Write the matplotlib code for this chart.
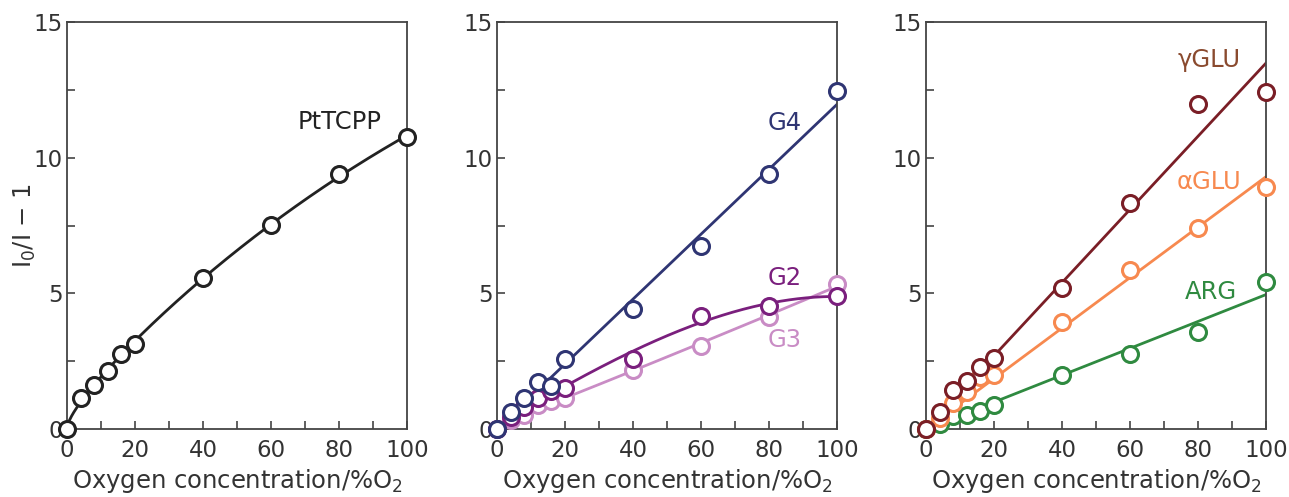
import numpy as np
import matplotlib
matplotlib.use("Agg")
import matplotlib.pyplot as plt

# oxygen concentration (%O2)
x_o2 = [0, 4, 8, 12, 16, 20, 40, 60, 80, 100]

# I0/I - 1 values
pttcpp = [0, 1.15, 1.62, 2.14, 2.78, 3.14, 5.55, 7.52, 9.41, 10.76]
g4 = [0, 0.61, 1.13, 1.72, 1.60, 2.58, 4.44, 6.75, 9.41, 12.45]
g2 = [0, 0.44, 0.82, 1.13, 1.40, 1.50, 2.58, 4.18, 4.55, 4.89]
g3 = [0, 0.35, 0.52, 0.88, 1.03, 1.15, 2.19, 3.07, 4.13, 5.33]
ygl = [0, 0.64, 1.45, 1.77, 2.28, 2.63, 5.18, 8.33, 11.99, 12.41]
agl = [0, 0.40, 0.96, 1.38, 1.92, 1.99, 3.95, 5.87, 7.40, 8.92]
arg = [0, 0.20, 0.49, 0.52, 0.66, 0.88, 1.99, 2.78, 3.59, 5.41]

xticks = [0, 20, 40, 60, 80, 100]
yticks = [0, 5, 10, 15]

TXT = "#333333"
plt.rcParams['font.family'] = ['DejaVu Sans']
plt.rcParams['mathtext.fontset'] = 'dejavusans'


def smooth_fit(x, y):
    # least squares with a sqrt / linear / quadratic basis (curve through origin)
    x = np.asarray(x, float); y = np.asarray(y, float)
    B = np.column_stack([np.sqrt(x), x, x ** 2])
    coef, *_ = np.linalg.lstsq(B, y, rcond=None)
    xs = np.linspace(0, 100, 300)
    return xs, np.column_stack([np.sqrt(xs), xs, xs ** 2]) @ coef


def origin_fit(x, y):
    x = np.asarray(x, float); y = np.asarray(y, float)
    k = np.sum(x * y) / np.sum(x * x)
    xs = np.array([0, 100.0])
    return xs, k * xs


def poly_fit(x, y, deg):
    p = np.polyfit(x, y, deg)
    xs = np.linspace(0, 100, 200)
    return xs, np.polyval(p, xs)


def style(ax, ylabel=False):
    ax.set_xlim(0, 100)
    ax.set_ylim(0, 15)
    ax.set_xticks(xticks)
    ax.set_yticks(yticks)
    ax.set_xticks([10, 30, 50, 70, 90], minor=True)
    ax.set_yticks([2.5, 7.5, 12.5], minor=True)
    ax.tick_params(which='both', direction='in', colors='#444444', labelcolor=TXT,
                   labelsize=16.5, width=1.2, length=6)
    ax.tick_params(axis='x', pad=7)
    ax.tick_params(axis='y', pad=3)
    for s in ax.spines.values():
        s.set_color('#444444')
        s.set_linewidth(1.3)
    ax.set_xlabel(r"Oxygen concentration/%O$_2$", fontsize=17.5, color=TXT, labelpad=4)
    if ylabel:
        ax.set_ylabel(r"I$_0$/I $-$ 1", fontsize=17.5, color=TXT, labelpad=-3)


def pts(ax, y, col):
    ax.plot(x_o2, y, 'o', ms=11.5, mfc='white', mec=col, mew=2.2, clip_on=False, zorder=3)


fig = plt.figure(figsize=(12.89, 4.97), dpi=100)
w = 340 / 1289
h = 407 / 497
bot = 1 - 429 / 497
ax1 = fig.add_axes([67 / 1289, bot, w, h])
ax2 = fig.add_axes([497 / 1289, bot, w, h])
ax3 = fig.add_axes([926 / 1289, bot, w, h])

# panel 1
c = "#222222"
xs, ys = smooth_fit(x_o2, pttcpp)
ax1.plot(xs, ys, color=c, lw=2)
pts(ax1, pttcpp, c)
ax1.text(80.3, 11.3, "PtTCPP", fontsize=17.5, color=c, ha='center', va='center')
style(ax1, ylabel=True)

# panel 2
cg4, cg2, cg3 = "#2f3573", "#7a1f7d", "#c98cc5"
xs, ys = poly_fit(x_o2, g3, 2)
ax2.plot(xs, ys, color=cg3, lw=2)
pts(ax2, g3, cg3)
xs, ys = poly_fit(x_o2, g2, 3)
ax2.plot(xs, ys, color=cg2, lw=2)
pts(ax2, g2, cg2)
xs, ys = origin_fit(x_o2, g4)
ax2.plot(xs, ys, color=cg4, lw=2)
pts(ax2, g4, cg4)
ax2.text(84.7, 11.28, "G4", fontsize=17.5, color=cg4, ha='center', va='center')
ax2.text(84.7, 5.57, "G2", fontsize=17.5, color=cg2, ha='center', va='center')
ax2.text(84.7, 3.28, "G3", fontsize=17.5, color=cg3, ha='center', va='center')
style(ax2)

# panel 3
cy, ca, cr = "#7a1e26", "#f7894f", "#2f8a40"
for y, col in [(arg, cr), (agl, ca), (ygl, cy)]:
    xs, ys = origin_fit(x_o2, y)
    ax3.plot(xs, ys, color=col, lw=2)
    pts(ax3, y, col)
ax3.text(83.3, 13.6, "γGLU", fontsize=17.5, color="#8a4a2e", ha='center', va='center')
ax3.text(83.3, 9.1, "αGLU", fontsize=17.5, color=ca, ha='center', va='center')
ax3.text(83.8, 5.05, "ARG", fontsize=17.5, color=cr, ha='center', va='center')
style(ax3)

fig.savefig("out.png", dpi=100)
